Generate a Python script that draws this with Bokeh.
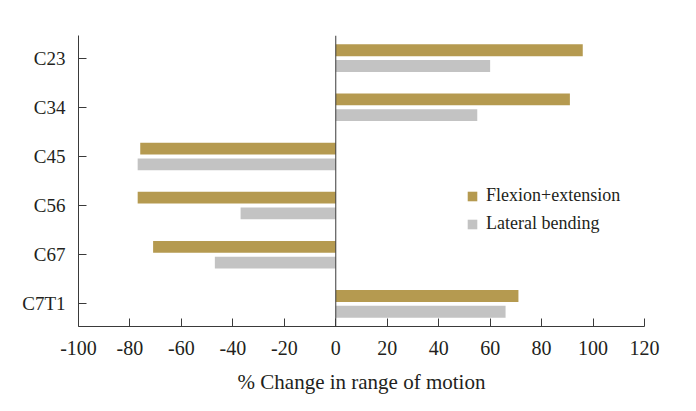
from bokeh.plotting import figure
from bokeh.models import ColumnDataSource, FactorRange, Range1d, Span, Legend, LegendItem, FixedTicker
from bokeh.transform import dodge
from bokeh.embed import file_html
from bokeh.resources import INLINE

categories = ["C23", "C34", "C45", "C56", "C67", "C7T1"]
flexion_extension = [96, 91, -76, -77, -71, 71]
lateral_bending = [60, 55, -77, -37, -47, 66]
x_ticks = [-100, -80, -60, -40, -20, 0, 20, 40, 60, 80, 100, 120]

FONT = "Liberation Serif"
TEXT = "#231f20"
AXIS = "#3a3a3a"
GOLD = "#b59a50"
GRAY = "#c3c3c3"

src = ColumnDataSource(dict(cat=categories, fe=flexion_extension, lb=lateral_bending))

p = figure(width=688, height=403, output_backend="svg", toolbar_location=None,
           y_range=FactorRange(factors=categories[::-1], range_padding=-0.0133),
           x_range=Range1d(-100, 120),
           min_border_left=78, min_border_right=44, min_border_top=35, min_border_bottom=77)

r1 = p.hbar(y=dodge("cat", 0.16, range=p.y_range), right="fe", left=0, height=0.24,
            source=src, fill_color=GOLD, line_color=None)
r2 = p.hbar(y=dodge("cat", -0.16, range=p.y_range), right="lb", left=0, height=0.24,
            source=src, fill_color=GRAY, line_color=None)

p.add_layout(Span(location=0, dimension="height", line_color=AXIS, line_width=1))

p.outline_line_color = None
p.grid.visible = False
p.background_fill_color = "white"
p.border_fill_color = "white"

p.xaxis.ticker = FixedTicker(ticks=x_ticks)
p.xaxis.major_label_overrides = {t: str(t) for t in x_ticks}
p.xaxis.axis_label = "% Change in range of motion"
for ax in (p.xaxis, p.yaxis):
    ax.axis_line_color = AXIS
    ax.major_tick_line_color = AXIS
    ax.major_tick_in = 8
    ax.major_tick_out = 0
    ax.minor_tick_line_color = None
    ax.major_label_text_font = FONT
    ax.major_label_text_color = TEXT
    ax.axis_label_text_font = FONT
    ax.axis_label_text_color = TEXT
    ax.axis_label_text_font_style = "normal"
p.xaxis.major_label_text_font_size = "20px"
p.yaxis.major_label_text_font_size = "19px"
p.xaxis.axis_label_text_font_size = "21px"
p.xaxis.major_label_standoff = 14
p.xaxis.axis_label_standoff = 12
p.yaxis.major_label_standoff = 13

legend = Legend(items=[LegendItem(label="Flexion+extension", renderers=[r1]),
                       LegendItem(label="Lateral bending", renderers=[r2])],
                location=(388, 92), padding=0, margin=0, spacing=7,
                glyph_width=12, glyph_height=12, label_standoff=8,
                label_text_font=FONT, label_text_font_size="18px", label_text_color=TEXT,
                border_line_color=None, background_fill_alpha=0)
p.add_layout(legend, "center")

open("out.html", "w").write(file_html(p, INLINE))
